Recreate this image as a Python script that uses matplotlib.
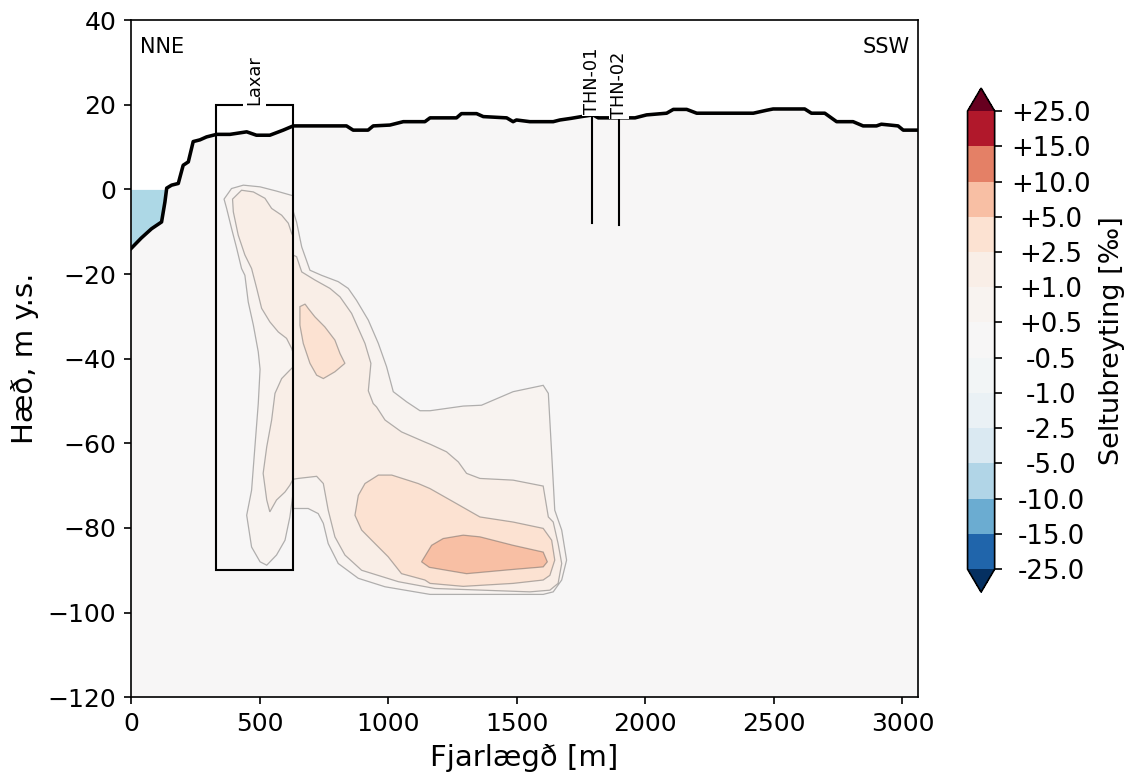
#!/usr/bin/env python3
# -*- coding: utf-8 -*-
"""Seltubreyting across the Laxar / THN section (NNE -> SSW)."""

import numpy as np
import matplotlib
matplotlib.use("Agg")
import matplotlib.pyplot as plt
from matplotlib.colors import Normalize, BoundaryNorm, ListedColormap
from matplotlib.cm import ScalarMappable
from matplotlib.patches import Rectangle, Polygon

# contour levels [permil]
levels = [-25.0, -15.0, -10.0, -5.0, -2.5, -1.0, -0.5, 0.5, 1.0, 2.5, 5.0, 10.0, 15.0, 25.0]

# ground surface along the section
terrain_x = [0, 40, 80, 119, 132, 139, 158, 184, 203, 223, 242, 268, 294, 333, 385,
             450, 488, 540, 592, 631, 838, 864, 922, 942, 1007, 1059, 1143, 1163,
             1266, 1285, 1344, 1370, 1461, 1486, 1499, 1551, 1642, 1668, 1713, 1752,
             1797, 1817, 1856, 1901, 1960, 2005, 2083, 2109, 2161, 2200, 2420, 2472,
             2497, 2620, 2646, 2698, 2744, 2808, 2847, 2899, 2918, 2951, 2983, 3003, 3060]
terrain_z = [-14, -11.5, -9.3, -7.7, -3, 0.3, 1, 1.4, 5.7, 6.5, 11.3, 11.7, 12.4, 13, 13,
             13.6, 12.8, 12.8, 14, 15, 15, 14, 14, 15, 15.2, 16, 16, 16.9,
             16.9, 17.9, 17.9, 17.2, 16.9, 16, 16.4, 16, 16, 16.4, 16.8, 17.2,
             17.6, 16.9, 16.9, 16.9, 16.9, 17.6, 18, 18.9, 18.9, 18, 18, 18.7,
             19, 19, 18, 18, 16, 16, 15, 15, 15.4, 15.2, 15, 14, 14]

# Laxar box
laxar_x = [330, 630]
laxar_z = [-90, 20]

# wells
well_names = ["THN-01", "THN-02"]
well_x = [1792, 1897]
well_top = [17.7, 16.9]
well_bottom = [-8.0, -8.3]

# contour regions (x [m], z [m y.s.]), lower level of the band they enclose
laxar_outer = [(630, -1.5), (618, -1.3), (566, -0.4), (502, 0.6), (437, 1.0), (391, 0.2),
               (362, -2.3), (372, -4.5), (391, -9.2), (411, -13.9), (430, -18.7),
               (443, -20.3), (456, -26.6), (476, -32.1), (495, -38.4), (502, -42.5),
               (495, -50.6), (482, -60.8), (469, -71.1), (450, -77), (469, -84.5),
               (502, -88), (528, -88.8), (566, -86.4), (599, -82.9), (618, -77.4), (630, -72)]
laxar_inner_top = [(630, -11), (625, -10.4), (612, -8), (586, -6.1), (547, -4.5), (521, -2.1),
                   (476, -0.6), (430, -0.2), (395, -2.3), (398, -5.3), (417, -10.8),
                   (443, -15.5), (469, -18.7), (489, -23.4), (508, -28.1), (540, -31.3),
                   (573, -33.7), (605, -35.2), (625, -37.6), (630, -38.5)]
laxar_inner_low = [(630, -42), (618, -42.7), (586, -44.7), (560, -48.2), (547, -54.5),
                   (528, -60.8), (514, -67.1), (528, -73.4), (540, -76.2), (566, -73.4),
                   (599, -71.5), (618, -69.9), (630, -68.5)]
main_outer = [(630, -5), (644, -7.7), (664, -13.6), (696, -19.1), (741, -20.3), (806, -21.8),
              (845, -23.4), (877, -26.2), (923, -30.9), (962, -36.4), (994, -41.9),
              (1020, -47.8), (1072, -50.2), (1124, -52.3), (1163, -52.3), (1292, -51.2),
              (1363, -51), (1486, -47.8), (1603, -46.3), (1623, -48.2), (1636, -62.4),
              (1648, -75.8), (1675, -80.5), (1694, -87.6), (1675, -92.3), (1642, -95.1),
              (1603, -95.7), (1163, -95.7), (988, -93.9), (884, -91.9), (806, -88.4),
              (767, -83.7), (748, -78.9), (728, -76.6), (689, -75.4), (644, -75.4), (630, -75.4)]
main_inner = [(630, -15.5), (644, -15.9), (664, -19.5), (715, -21.4), (774, -23.4),
              (813, -25.4), (858, -29.3), (910, -36.4), (933, -41.1), (923, -47.6),
              (942, -50.6), (955, -51.4), (988, -54.5), (1052, -57.3), (1143, -59.7),
              (1163, -60.2), (1227, -62), (1273, -64.4), (1305, -67.1), (1357, -68.3),
              (1486, -68.7), (1603, -70.1), (1623, -77.4), (1642, -78.6), (1661, -83.7),
              (1675, -88.4), (1661, -93.1), (1629, -94.7), (1551, -95.1), (1182, -94.3),
              (1040, -92.7), (897, -90), (832, -86.4), (793, -82.1), (767, -75.8),
              (748, -69.5), (722, -67.8), (650, -68.3), (630, -68.5)]
upper_core = [(657, -27.7), (677, -27.1), (689, -28.1), (715, -30.1), (754, -32.5),
              (793, -35.6), (813, -38.8), (832, -41.1), (793, -43.1), (748, -44.7),
              (722, -43.9), (696, -41.1), (670, -36.4), (657, -32.1)]
lower_core = [(871, -77), (884, -72.3), (910, -69.5), (962, -67.5), (1014, -67.5),
              (1117, -69.5), (1163, -70.7), (1253, -73.8), (1357, -77.4), (1486, -78.6),
              (1603, -80.1), (1636, -82.9), (1648, -87.6), (1629, -91.2), (1603, -92.3),
              (1486, -93.1), (1292, -93.8), (1163, -93.1), (1143, -92.3), (1052, -90.8),
              (1000, -86.8), (936, -82.9), (897, -80.5)]
peak_core = [(1130, -88), (1169, -84.1), (1214, -82.5), (1292, -81.7), (1357, -82.1),
             (1486, -84.1), (1603, -85.7), (1619, -88), (1603, -89.2), (1486, -89.8),
             (1305, -90.8), (1227, -90), (1160, -89.3)]

regions = [
    (0.5, laxar_outer), (1.0, laxar_inner_top), (1.0, laxar_inner_low),
    (0.5, main_outer), (1.0, main_inner),
    (2.5, upper_core), (2.5, lower_core), (5.0, peak_core),
]


def band_color(cmap, norm, lower):
    i = levels.index(lower)
    mid = 0.5 * (levels[i] + levels[i + 1])
    return cmap(norm(mid))


def main():
    cmap = plt.get_cmap("RdBu_r")
    norm = Normalize(vmin=levels[0], vmax=levels[-1])
    bg = cmap(norm(0.0))

    fig = plt.figure(figsize=(1129 / 150, 773 / 150), dpi=150)
    ax = fig.add_axes([0.116, 0.098, 0.697, 0.876])

    tx = np.array(terrain_x, dtype=float)
    tz = np.array(terrain_z, dtype=float)

    # ground below surface, sea above it
    ax.fill_between(tx, -120, tz, color=bg, lw=0, zorder=1)
    ax.fill_between(tx, tz, 0, where=tz < 0, interpolate=True,
                    color="lightblue", lw=0, zorder=1)

    for lower, pts in regions:
        poly = Polygon(pts, closed=True, facecolor=band_color(cmap, norm, lower),
                       edgecolor=(0.35, 0.35, 0.35, 0.45), lw=0.6, zorder=2)
        ax.add_patch(poly)

    ax.plot(tx, tz, color="black", lw=1.7, zorder=6)

    # Laxar box
    ax.add_patch(Rectangle((laxar_x[0], laxar_z[0]), laxar_x[1] - laxar_x[0],
                           laxar_z[1] - laxar_z[0], fill=False, ec="black",
                           lw=1.0, zorder=5))
    ax.text(0.5 * (laxar_x[0] + laxar_x[1]), laxar_z[1], "Laxar", rotation=90,
            ha="center", va="bottom", fontsize=8.5, zorder=8,
            bbox=dict(facecolor="white", edgecolor="none", pad=1.0))

    # wells
    for name, x, top, bot in zip(well_names, well_x, well_top, well_bottom):
        ax.plot([x, x], [top, bot], color="black", lw=1.0, zorder=7)
        ax.text(x, top, name, rotation=90, ha="center", va="bottom",
                fontsize=8.5, zorder=8,
                bbox=dict(facecolor="white", edgecolor="none", pad=0.5))

    ax.text(0.011, 0.975, "NNE", transform=ax.transAxes, ha="left", va="top", fontsize=10)
    ax.text(0.99, 0.975, "SSW", transform=ax.transAxes, ha="right", va="top", fontsize=10)

    ax.set_xlim(0, 3060)
    ax.set_ylim(-120, 40)
    ax.set_xticks(np.arange(0, 3001, 500))
    ax.set_yticks(np.arange(-120, 41, 20))
    ax.tick_params(labelsize=12)
    ax.set_xlabel("Fjarlægð [m]", fontsize=14)
    ax.set_ylabel("Hæð, m y.s.", fontsize=14)

    # colorbar with uniform bands like contourf
    band_colors = [cmap(norm(0.5 * (levels[i] + levels[i + 1])))
                   for i in range(len(levels) - 1)]
    cb_cmap = ListedColormap(band_colors)
    cb_cmap.set_under(cmap(0.0))
    cb_cmap.set_over(cmap(1.0))
    sm = ScalarMappable(norm=BoundaryNorm(levels, len(band_colors)), cmap=cb_cmap)
    cax = fig.add_axes([0.857, 0.234, 0.024, 0.652])
    cb = fig.colorbar(sm, cax=cax, extend="both", ticks=levels, format="%+.1f")
    # tick labels are centred in their column
    cb.ax.tick_params(labelsize=12.5, pad=23.5)
    for lbl in cb.ax.get_yticklabels():
        lbl.set_horizontalalignment("center")
    cb.set_label("Seltubreyting [‰]", fontsize=13)

    fig.savefig("out.png", dpi=150)
    plt.close(fig)


if __name__ == "__main__":
    main()
